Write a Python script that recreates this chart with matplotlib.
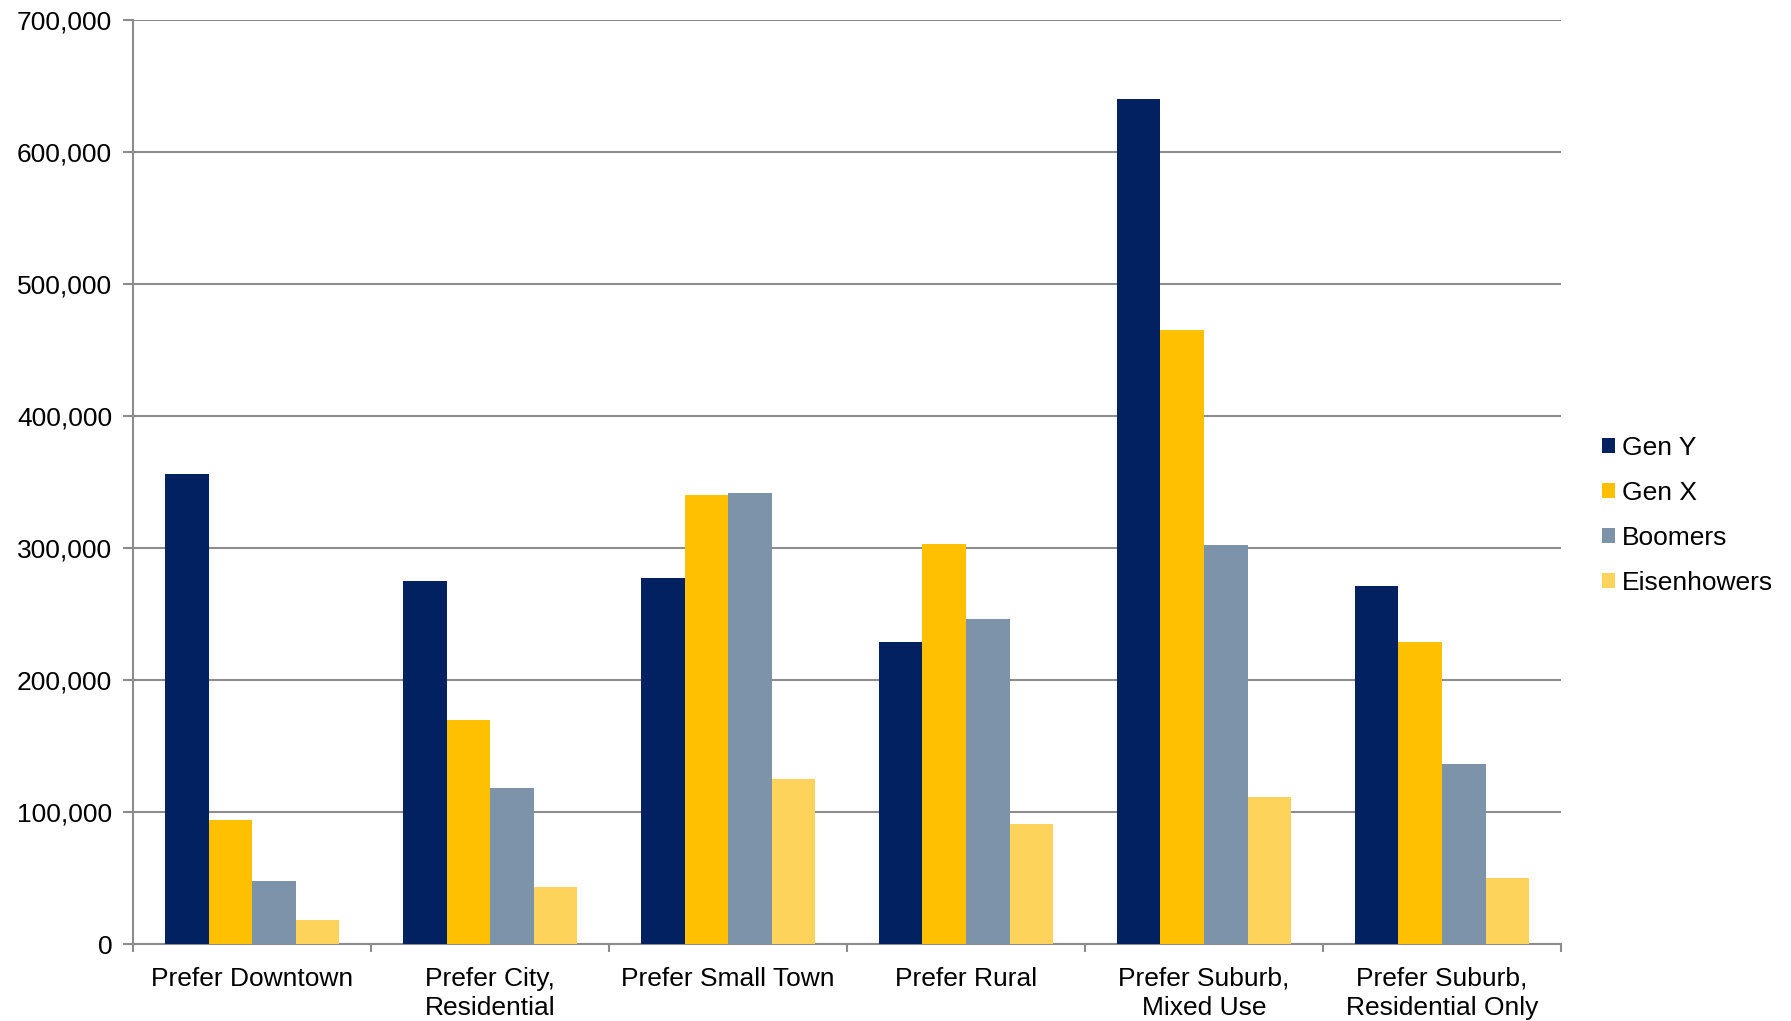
import numpy as np
import matplotlib
matplotlib.use("Agg")
import matplotlib.pyplot as plt
from matplotlib.ticker import FuncFormatter

# data
categories = ["Prefer Downtown", "Prefer City,\nResidential", "Prefer Small Town",
              "Prefer Rural", "Prefer Suburb,\nMixed Use", "Prefer Suburb,\nResidential Only"]
gen_y = [356000, 275000, 277000, 229000, 640000, 271000]
gen_x = [94000, 170000, 340000, 303000, 465000, 229000]
boomers = [48000, 118000, 342000, 246000, 302000, 136000]
eisenhowers = [18000, 43000, 125000, 91000, 111000, 50000]

series_names = ["Gen Y", "Gen X", "Boomers", "Eisenhowers"]
series_colors = ["#022160", "#FEC000", "#7C93AA", "#FED35B"]

plt.rcParams['font.family'] = ['Liberation Sans', 'DejaVu Sans']

fig = plt.figure(figsize=(17.91, 10.21), dpi=100)
ax = fig.add_axes([0.0743, 0.0754, 0.8716 - 0.0743, 0.9804 - 0.0754])

x = np.arange(len(categories))
barW = 0.183
allSeries = [gen_y, gen_x, boomers, eisenhowers]
for i in range(len(allSeries)):
    offs = (i - 1.5) * barW
    ax.bar(x + offs, allSeries[i], width=barW, color=series_colors[i],
           label=series_names[i], zorder=3)

ax.set_xlim(-0.5, len(categories) - 0.5)
ax.set_ylim(0, 700000)
ax.set_yticks(np.arange(0, 700001, 100000))
ax.yaxis.set_major_formatter(FuncFormatter(lambda v, p: "{:,.0f}".format(v)))
ax.grid(axis='y', color='#8C8C8C', linewidth=1.5, zorder=0)

# ticks at category boundaries, labels at centres
ax.set_xticks(np.arange(-0.5, len(categories), 1.0))
ax.set_xticklabels([])
ax.set_xticks(x, minor=True)
ax.set_xticklabels(categories, minor=True, fontsize=19, linespacing=1.28)
ax.tick_params(axis='x', which='minor', length=0, pad=16.5)
ax.tick_params(axis='x', which='major', length=6, width=1.5, color='#8C8C8C')
ax.tick_params(axis='y', length=7, width=1.5, color='#8C8C8C', labelsize=19, pad=8)

for side in ['top', 'right']:
    ax.spines[side].set_visible(False)
for side in ['left', 'bottom']:
    ax.spines[side].set_color('#8C8C8C')
    ax.spines[side].set_linewidth(1.5)

ax.legend(loc='center left', bbox_to_anchor=(1.012, 0.464), frameon=False,
          fontsize=19, handlelength=0.5, handleheight=0.5, handletextpad=0.25,
          labelspacing=0.8)

fig.savefig("out.png", dpi=100)
